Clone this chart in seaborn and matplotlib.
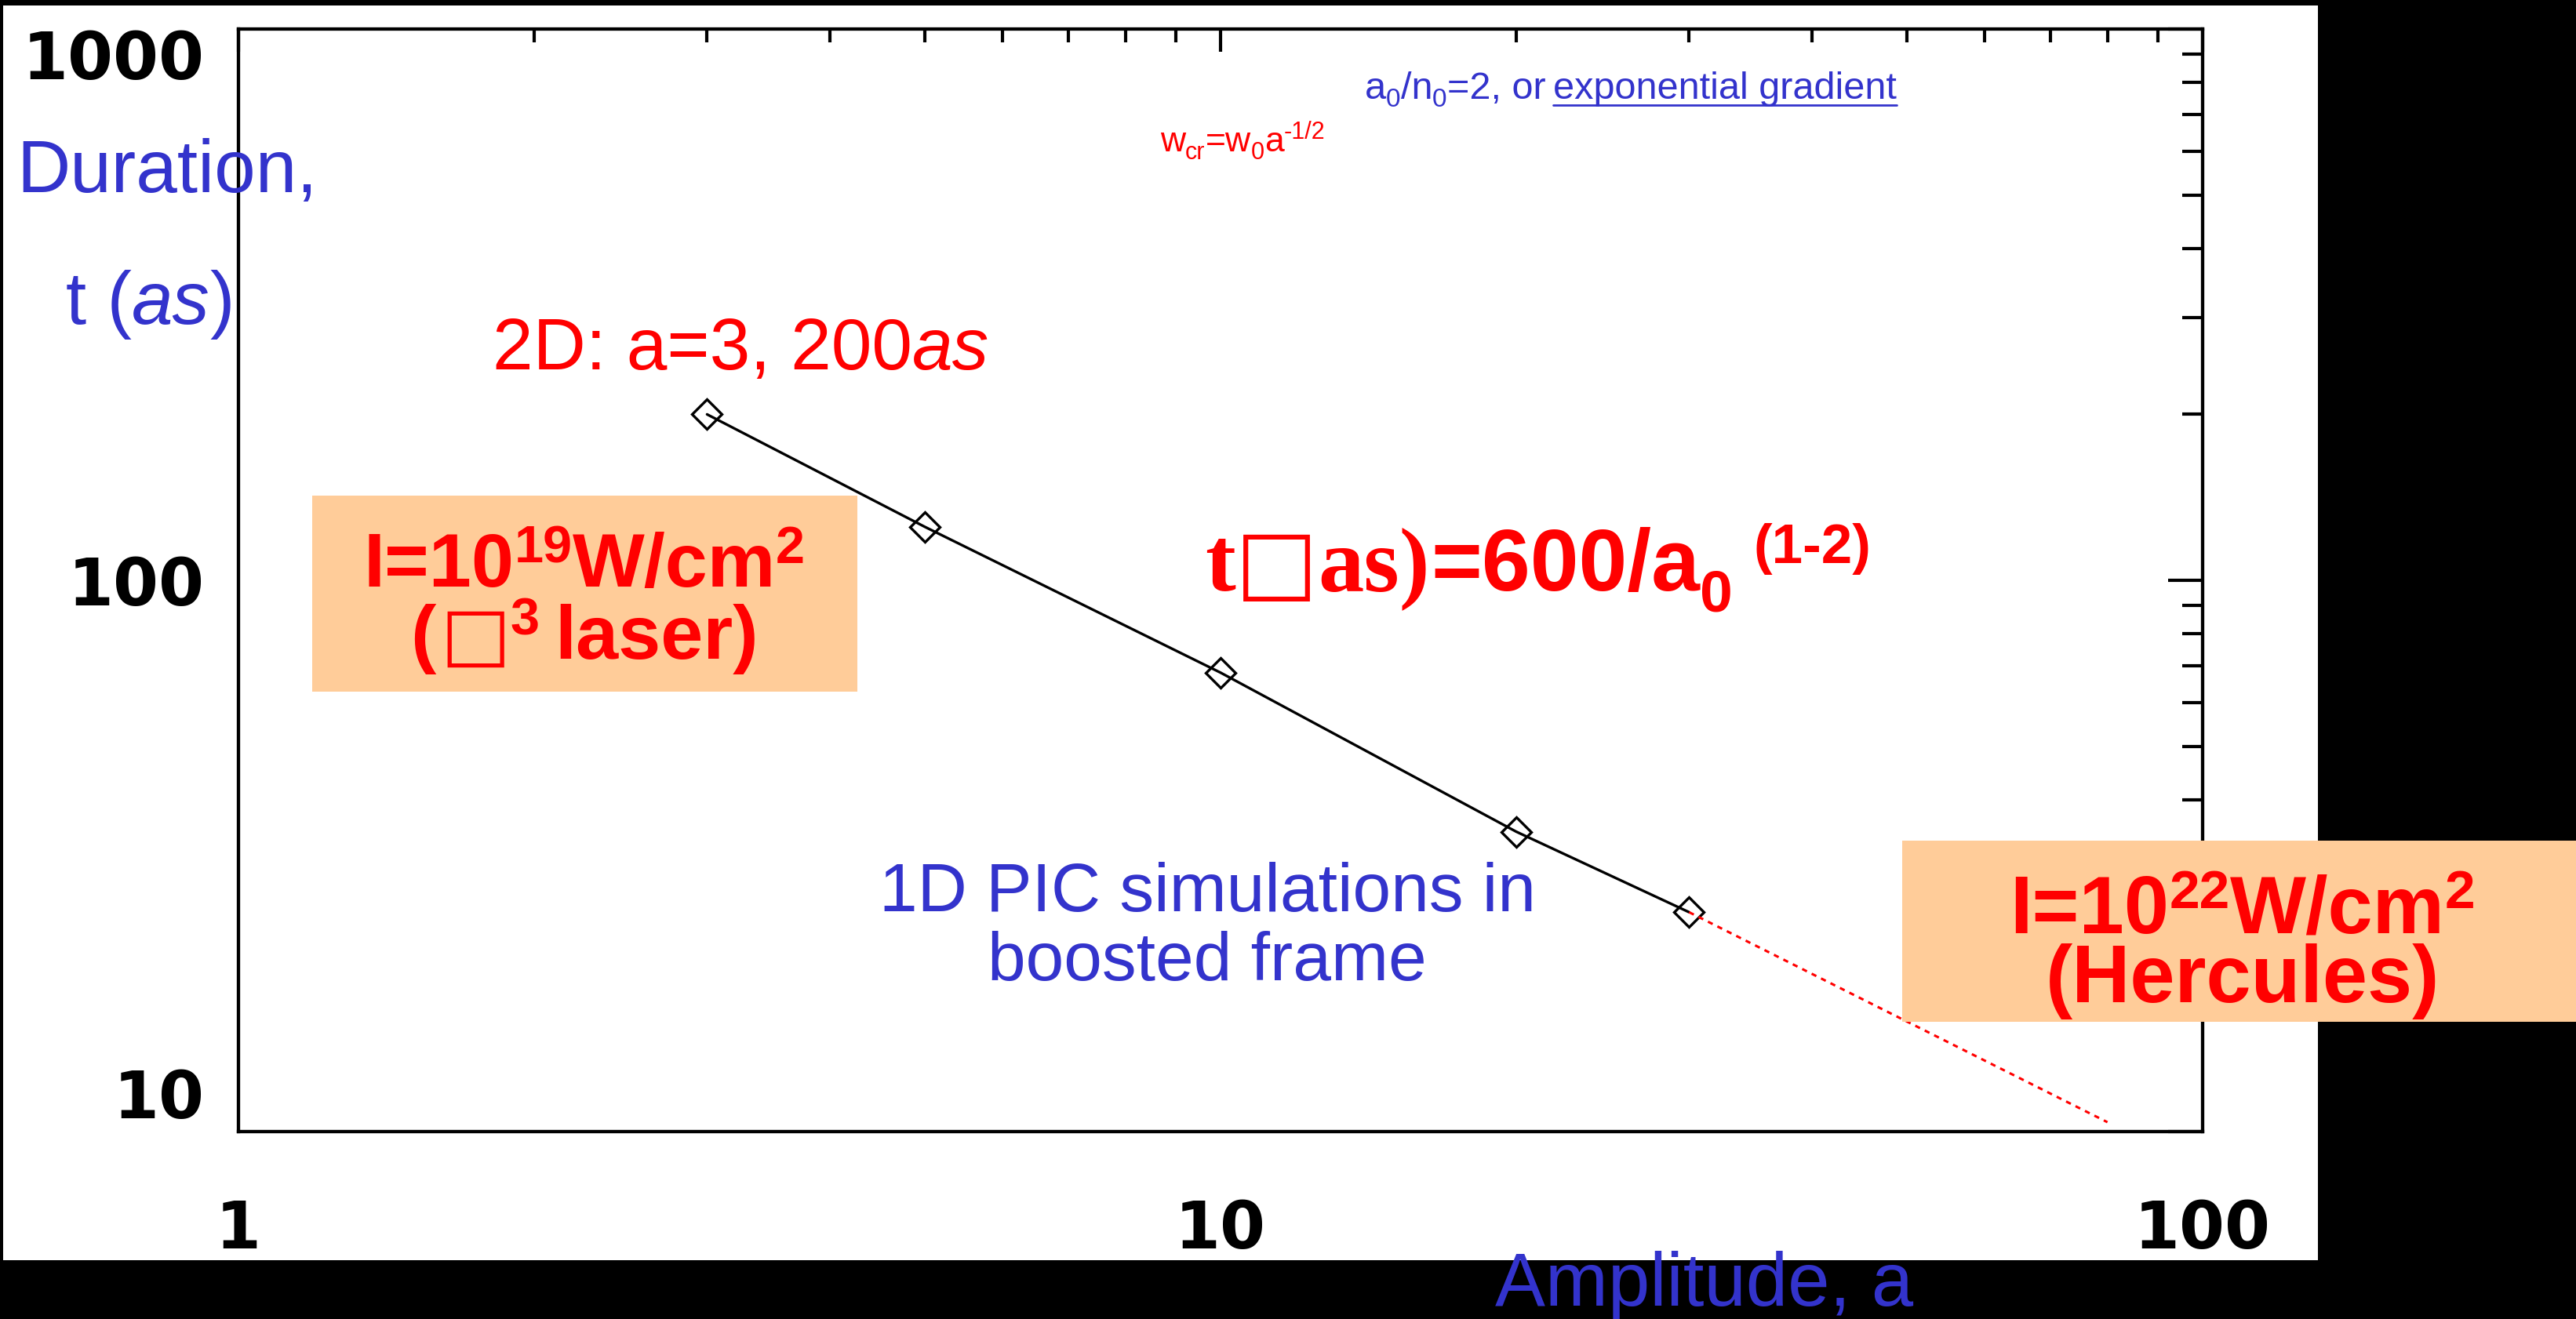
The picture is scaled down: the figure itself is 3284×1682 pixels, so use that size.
import numpy as np
import pandas as pd
import seaborn as sns
import matplotlib.pyplot as plt
import matplotlib.ticker as ticker
from matplotlib.patches import Rectangle
from matplotlib.lines import Line2D
from matplotlib.transforms import IdentityTransform

# data
amplitude = [3, 5, 10, 20, 30]
duration = [200, 125, 68, 35, 25]
ext_amplitude = [30, 80]
ext_duration = [25, 10.4]
x_ticks = [1, 10, 100]
y_ticks = [10, 100, 1000]

W, H = 3284, 1682
BLUE = '#3333CC'
RED = '#FF0000'
PEACH = '#FFCC99'
SANS = ['Liberation Sans', 'DejaVu Sans']
SERIF = ['Liberation Serif', 'DejaVu Serif']
TOFU = '\u25A1'

sns.set_style('white')
plt.rcParams['font.family'] = SANS

fig = plt.figure(figsize=(W / 100, H / 100), dpi=100, facecolor='black')

# white slide panel
fig.patches.append(Rectangle((4 / W, 1 - 1607 / H), 2951 / W, 1600 / H,
                             transform=fig.transFigure, facecolor='white',
                             edgecolor='none', zorder=-1))

ax = fig.add_axes([304 / W, 1 - 1443 / H, (2808 - 304) / W, (1443 - 37) / H])
ax.set_facecolor('white')

df = pd.DataFrame({'a': amplitude, 't': duration})
ext = pd.DataFrame({'a': ext_amplitude, 't': ext_duration})

sns.lineplot(data=df, x='a', y='t', ax=ax, color='black', lw=2.4,
             marker='D', markersize=19, markerfacecolor='none',
             markeredgecolor='black', markeredgewidth=2.4)
sns.lineplot(data=ext, x='a', y='t', ax=ax, color=RED, lw=2.2,
             linestyle=(0, (2.2, 2.2)))

ax.set_xscale('log')
ax.set_yscale('log')
ax.set_xlim(1, 100)
ax.set_ylim(10, 1000)
ax.set_xticks(x_ticks)
ax.set_yticks(y_ticks)
fmt = ticker.FuncFormatter(lambda v, p: f'{v:g}')
ax.xaxis.set_major_formatter(fmt)
ax.yaxis.set_major_formatter(fmt)
ax.xaxis.set_minor_locator(ticker.LogLocator(subs=np.arange(2, 10)))
ax.yaxis.set_minor_locator(ticker.LogLocator(subs=np.arange(2, 10)))
ax.xaxis.set_minor_formatter(ticker.NullFormatter())
ax.yaxis.set_minor_formatter(ticker.NullFormatter())
ax.set_xlabel('')
ax.set_ylabel('')

ax.tick_params(which='both', direction='in', top=True, right=True,
               colors='black', width=3.0)
ax.tick_params(axis='x', which='major', length=21, pad=61, labelsize=60)
ax.tick_params(axis='x', which='minor', length=12)
ax.tick_params(axis='y', which='major', length=32, pad=31, labelsize=60)
ax.tick_params(axis='y', which='minor', length=19)
for lab in ax.get_xticklabels() + ax.get_yticklabels():
    lab.set_fontweight('bold')
    lab.set_family(['DejaVu Sans'])
# IDL keeps the end labels inside the axis range
yt = ax.yaxis.get_major_ticks()
yt[0].label1.set_va('bottom')
yt[-1].label1.set_va('top')
for s in ax.spines.values():
    s.set_linewidth(3.1)
    s.set_color('black')


def chain(x, y, pieces, ha='left'):
    # pieces: (text, font kwargs, rise in px, gap before in px)
    r = fig.canvas.get_renderer()
    arts = []
    for s, kw, rise, gap in pieces:
        t = fig.text(0, 0, s, transform=IdentityTransform(), va='baseline',
                     ha='left', zorder=3, **kw)
        arts.append((t, t.get_window_extent(r).width, rise, gap))
    total = sum(w + g for _, w, _, g in arts)
    cx = x - total / 2 if ha == 'center' else x
    for t, w, rise, gap in arts:
        cx += gap
        t.set_position((cx, H - y + rise))
        cx += w
    return arts


def f(size, color, weight='normal', style='normal', family=SANS):
    return dict(fontsize=size, color=color, fontweight=weight,
                fontstyle=style, family=family)


# y axis title
chain(21, 245, [('Duration,', f(68, BLUE), 0, 0)])
chain(84, 413, [('t (', f(68, BLUE), 0, 0),
                ('as', f(68, BLUE, style='italic'), 0, 0),
                (')', f(68, BLUE), 0, 0)])

# x axis title
chain(1906, 1665, [('Amplitude, a', f(69, BLUE), 0, 0)])

# annotations
chain(628, 471, [('2D: a=3, 200', f(67, RED), 0, 0),
                 ('as', f(67, RED, style='italic'), 0, 0)])

chain(1479, 193, [('w', f(32, RED), 0, 0), ('cr', f(22, RED), -10, 0),
                  ('=w', f(32, RED), 0, 0), ('0', f(22, RED), -10, 0),
                  ('a', f(32, RED), 0, 0), ('-1/2', f(22, RED), 16, 0)])

arts = chain(1740, 126, [('a', f(35, BLUE), 0, 0), ('0', f(24, BLUE), -10, 0),
                         ('/n', f(35, BLUE), 0, 0), ('0', f(24, BLUE), -10, 0),
                         ('=2, or', f(35, BLUE), 0, 0),
                         ('exponential gradient', f(35, BLUE), 0, 10)])
r = fig.canvas.get_renderer()
bb = arts[-1][0].get_window_extent(r)
fig.add_artist(Line2D([bb.x0 / W, bb.x1 / W], [(H - 134) / H] * 2,
                      color=BLUE, lw=2))

chain(1539, 1162, [('1D PIC simulations in', f(63, BLUE), 0, 0)], ha='center')
chain(1539, 1250, [('boosted frame', f(63, BLUE), 0, 0)], ha='center')

# formula
chain(1536, 753, [('t', f(84, RED, 'bold', family=SERIF), 0, 0),
                  (TOFU, f(80, RED, family=['DejaVu Sans']), 0, 0),
                  ('as)', f(84, RED, 'bold', family=SERIF), 0, 0),
                  ('=600/a', f(80, RED, 'bold'), 0, 2),
                  ('0', f(54, RED, 'bold'), -27, 0),
                  ('(1-2)', f(51, RED, 'bold'), 35, 26)])

# peach boxes
fig.patches.append(Rectangle((398 / W, 1 - 882 / H), 695 / W, 250 / H,
                             transform=fig.transFigure, facecolor=PEACH,
                             edgecolor='none', zorder=1))
chain(745, 748, [('I=10', f(70, RED, 'bold'), 0, 0),
                 ('19', f(48, RED, 'bold'), 30, 0),
                 ('W/cm', f(70, RED, 'bold'), 0, 0),
                 ('2', f(48, RED, 'bold'), 30, 0)], ha='center')
chain(745, 840, [('(', f(70, RED, 'bold'), 0, 0),
                 (TOFU, f(68, RED, family=['DejaVu Sans']), 0, 6),
                 ('3', f(48, RED, 'bold'), 30, 0),
                 ('laser)', f(70, RED, 'bold'), 0, 20)], ha='center')

fig.patches.append(Rectangle((2425 / W, 1 - 1303 / H), 859 / W, 231 / H,
                             transform=fig.transFigure, facecolor=PEACH,
                             edgecolor='none', zorder=1))
chain(2859, 1190, [('I=10', f(74, RED, 'bold'), 0, 0),
                   ('22', f(50, RED, 'bold'), 32, 0),
                   ('W/cm', f(74, RED, 'bold'), 0, 0),
                   ('2', f(50, RED, 'bold'), 32, 0)], ha='center')
chain(2859, 1278, [('(Hercules)', f(74, RED, 'bold'), 0, 0)], ha='center')

fig.savefig('out.png', dpi=100, facecolor='black')
